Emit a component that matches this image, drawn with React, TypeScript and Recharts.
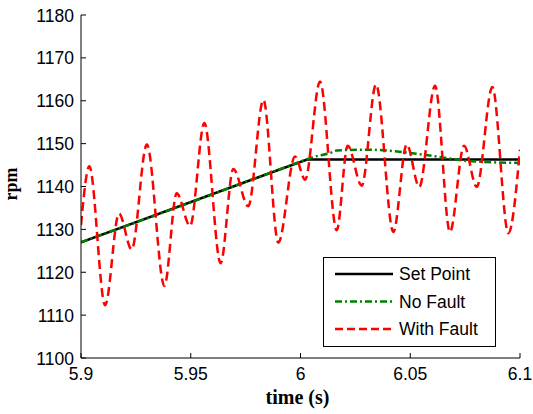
import React from 'react';
import { LineChart, Line, XAxis, YAxis, Legend } from 'recharts';

const xTicks = [5.9, 5.95, 6, 6.05, 6.1];
const yTicks = [1100, 1110, 1120, 1130, 1140, 1150, 1160, 1170, 1180];

const setPointT = [5.9, 6.003, 6.1];
const setPointV = [1127, 1146.3, 1146.3];

const noFaultT = [5.9, 5.95, 6.0, 6.006, 6.0134, 6.0165, 6.0317, 6.036, 6.0468, 6.062, 6.0772, 6.1];
const noFaultV = [1127, 1136.3, 1145.8, 1146.9, 1147.8, 1148.4, 1148.6, 1148.5, 1148.0, 1147.0, 1145.9, 1145.5];

const faultT = [
  5.9, 5.9038, 5.911, 5.9173, 5.9231, 5.930, 5.938, 5.9436, 5.9497, 5.9562, 5.9636,
  5.9694, 5.9762, 5.9831, 5.9899, 5.9975, 6.0021, 6.0089, 6.0165, 6.0215, 6.0279,
  6.0344, 6.0423, 6.0484, 6.0541, 6.0613, 6.0681, 6.0745, 6.0803, 6.0874, 6.0947, 6.1,
];
const faultV = [
  1131, 1144.7, 1112.3, 1133.7, 1125.3, 1149.8, 1116.8, 1138.4, 1130.8, 1154.8, 1122.1,
  1144.1, 1135.4, 1160.2, 1126.9, 1147.0, 1141.6, 1164.5, 1129.8, 1149.5, 1140.2,
  1163.8, 1129.4, 1149.8, 1139.9, 1163.5, 1129.4, 1149.5, 1139.9, 1163.2, 1129.1, 1148.6,
];

const toData = (ts: number[], vs: number[]) => ts.map((t, i) => ({ t, v: vs[i] }));
const setPointData = toData(setPointT, setPointV);
const noFaultData = toData(noFaultT, noFaultV);
const faultData = toData(faultT, faultV);

const FONT = '"Liberation Sans", Arial, Helvetica, sans-serif';
const SERIF = '"Liberation Serif", "Times New Roman", serif';
const FS = 17.5;

const BottomTick = (p: any) => (
  <g>
    <line x1={p.x} x2={p.x} y1={p.y} y2={p.y - 5} stroke="#000" strokeWidth={1} />
    <text x={p.x} y={p.y + 22} textAnchor="middle" fontSize={FS} fontFamily={FONT} fill="#000">
      {String(p.payload.value)}
    </text>
  </g>
);
const TopTick = (p: any) => (
  <line x1={p.x} x2={p.x} y1={p.y} y2={p.y + 5} stroke="#000" strokeWidth={1} />
);
const LeftTick = (p: any) => (
  <g>
    <line x1={p.x} x2={p.x + 5} y1={p.y} y2={p.y} stroke="#000" strokeWidth={1} />
    <text x={p.x - 7} y={p.y + 6.5} textAnchor="end" fontSize={FS} fontFamily={FONT} fill="#000">
      {String(p.payload.value)}
    </text>
  </g>
);
const RightTick = (p: any) => (
  <line x1={p.x} x2={p.x - 5} y1={p.y} y2={p.y} stroke="#000" strokeWidth={1} />
);

const LegendBox = () => {
  const items = [
    { label: 'Set Point', color: '#000', dash: undefined },
    { label: 'No Fault', color: '#008000', dash: '7 3 2 3' },
    { label: 'With Fault', color: '#ff0000', dash: '8 4' },
  ];
  return (
    <svg width={174} height={91} style={{ display: 'block' }}>
      <rect x={0.5} y={0.5} width={172} height={89} fill="#fff" stroke="#000" strokeWidth={1} />
      {items.map((it, i) => (
        <g key={it.label}>
          <line
            x1={12}
            x2={70}
            y1={17 + i * 27.5}
            y2={17 + i * 27.5}
            stroke={it.color}
            strokeWidth={2.5}
            strokeDasharray={it.dash}
          />
          <text x={76} y={17 + i * 27.5 + 6} fontSize={FS} fontFamily={FONT} fill="#000">
            {it.label}
          </text>
        </g>
      ))}
    </svg>
  );
};

export default function App() {
  return (
    <div style={{ position: 'absolute', left: 0, top: 0, width: 533, height: 414, background: '#fff' }}>
      <LineChart width={533} height={414} margin={{ top: 15, right: 13, bottom: 0, left: 0 }}>
        <XAxis
          xAxisId={0}
          dataKey="t"
          type="number"
          domain={[5.9, 6.1]}
          ticks={xTicks}
          allowDataOverflow
          height={56}
          tickSize={0}
          tickMargin={0}
          tickLine={false}
          axisLine={{ stroke: '#000', strokeWidth: 1 }}
          tick={BottomTick}
          interval={0}
          label={{
            content: (props: any) => {
              const vb = props.viewBox || {};
              return (
                <text
                  x={vb.x + vb.width / 2 - 3}
                  y={vb.y + 46}
                  textAnchor="middle"
                  fontSize={20}
                  fontWeight="bold"
                  fontFamily={SERIF}
                  fill="#000"
                >
                  time (s)
                </text>
              );
            },
          }}
        />
        <XAxis
          xAxisId="top"
          orientation="top"
          dataKey="t"
          type="number"
          domain={[5.9, 6.1]}
          ticks={xTicks}
          height={0}
          tickSize={0}
          tickMargin={0}
          tickLine={false}
          axisLine={{ stroke: '#000', strokeWidth: 1 }}
          tick={TopTick}
          interval={0}
        />
        <YAxis
          yAxisId={0}
          type="number"
          domain={[1100, 1180]}
          ticks={yTicks}
          allowDataOverflow
          width={81}
          tickSize={0}
          tickMargin={0}
          tickLine={false}
          axisLine={{ stroke: '#000', strokeWidth: 1 }}
          tick={LeftTick}
          interval={0}
          label={{
            content: () => (
              <text
                x={0}
                y={0}
                transform="translate(17,184) rotate(-90)"
                textAnchor="middle"
                fontSize={18}
                fontWeight="bold"
                fontFamily={SERIF}
                fill="#000"
              >
                rpm
              </text>
            ),
          }}
        />
        <YAxis
          yAxisId="right"
          orientation="right"
          type="number"
          domain={[1100, 1180]}
          ticks={yTicks}
          width={0}
          tickSize={0}
          tickMargin={0}
          tickLine={false}
          axisLine={{ stroke: '#000', strokeWidth: 1 }}
          tick={RightTick}
          interval={0}
        />
        <Line
          data={setPointData}
          dataKey="v"
          type="linear"
          stroke="#000"
          strokeWidth={2.5}
          dot={false}
          isAnimationActive={false}
        />
        <Line
          data={noFaultData}
          dataKey="v"
          type="monotone"
          stroke="#008000"
          strokeWidth={2.5}
          strokeDasharray="7 3 2 3"
          dot={false}
          isAnimationActive={false}
        />
        <Line
          data={faultData}
          dataKey="v"
          type="monotone"
          stroke="#ff0000"
          strokeWidth={2.5}
          strokeDasharray="9 5"
          dot={false}
          isAnimationActive={false}
        />
        <Legend
          layout="horizontal"
          verticalAlign="middle"
          align="center"
          content={() => <LegendBox />}
          wrapperStyle={{ position: 'absolute', left: 323, top: 257, width: 174, height: 91 }}
        />
      </LineChart>
    </div>
  );
}
